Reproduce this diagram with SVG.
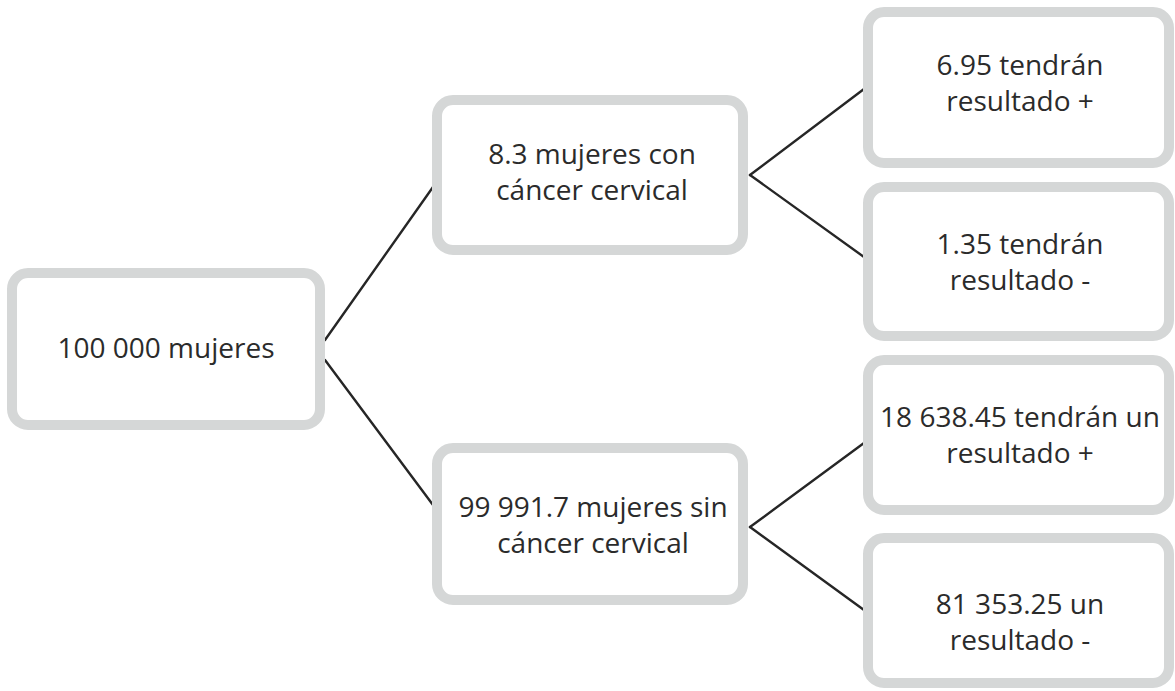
<svg xmlns="http://www.w3.org/2000/svg" width="1175" height="691" viewBox="0 0 1175 691">
<style>
.box{fill:#ffffff;stroke:#d5d7d7;stroke-width:10}
.lbl{font-family:"Open Sans","Noto Sans",sans-serif;font-size:28px;fill:#2b2b2b;text-anchor:middle}
.conn line{stroke:#262626;stroke-width:2.4;stroke-linecap:round}
</style>
<rect width="1175" height="691" fill="#ffffff"/>
<g id="connectors" class="conn">
<line x1="325" y1="340" x2="433" y2="187"/>
<line x1="325" y1="360" x2="433" y2="505"/>
<line x1="750" y1="175" x2="864" y2="89"/>
<line x1="750" y1="175" x2="864" y2="257"/>
<line x1="750" y1="527" x2="864" y2="443"/>
<line x1="750" y1="527" x2="864" y2="610"/>
</g>
<g id="root">
<rect class="box" x="12" y="273" width="308" height="152" rx="16"/>
<text class="lbl" x="166" y="358">100 000 mujeres</text>
</g>
<g id="con-cancer">
<rect class="box" x="437" y="100" width="306" height="150" rx="16"/>
<text class="lbl" x="592" y="164">8.3 mujeres con</text>
<text class="lbl" x="592" y="200">cáncer cervical</text>
</g>
<g id="sin-cancer">
<rect class="box" x="437" y="448" width="306" height="152" rx="16"/>
<text class="lbl" x="593" y="517">99 991.7 mujeres sin</text>
<text class="lbl" x="593" y="553">cáncer cervical</text>
</g>
<g id="leaf1">
<rect class="box" x="868" y="12" width="301" height="151" rx="16"/>
<text class="lbl" x="1020" y="75">6.95 tendrán</text>
<text class="lbl" x="1020" y="111">resultado +</text>
</g>
<g id="leaf2">
<rect class="box" x="868" y="187" width="301" height="149" rx="16"/>
<text class="lbl" x="1020" y="254">1.35 tendrán</text>
<text class="lbl" x="1020" y="290">resultado -</text>
</g>
<g id="leaf3">
<rect class="box" x="868" y="360" width="301" height="150" rx="16"/>
<text class="lbl" x="1020" y="427">18 638.45 tendrán un</text>
<text class="lbl" x="1020" y="463">resultado +</text>
</g>
<g id="leaf4">
<rect class="box" x="868" y="538" width="301" height="145" rx="16"/>
<text class="lbl" x="1020" y="614">81 353.25 un</text>
<text class="lbl" x="1020" y="650">resultado -</text>
</g>
</svg>
